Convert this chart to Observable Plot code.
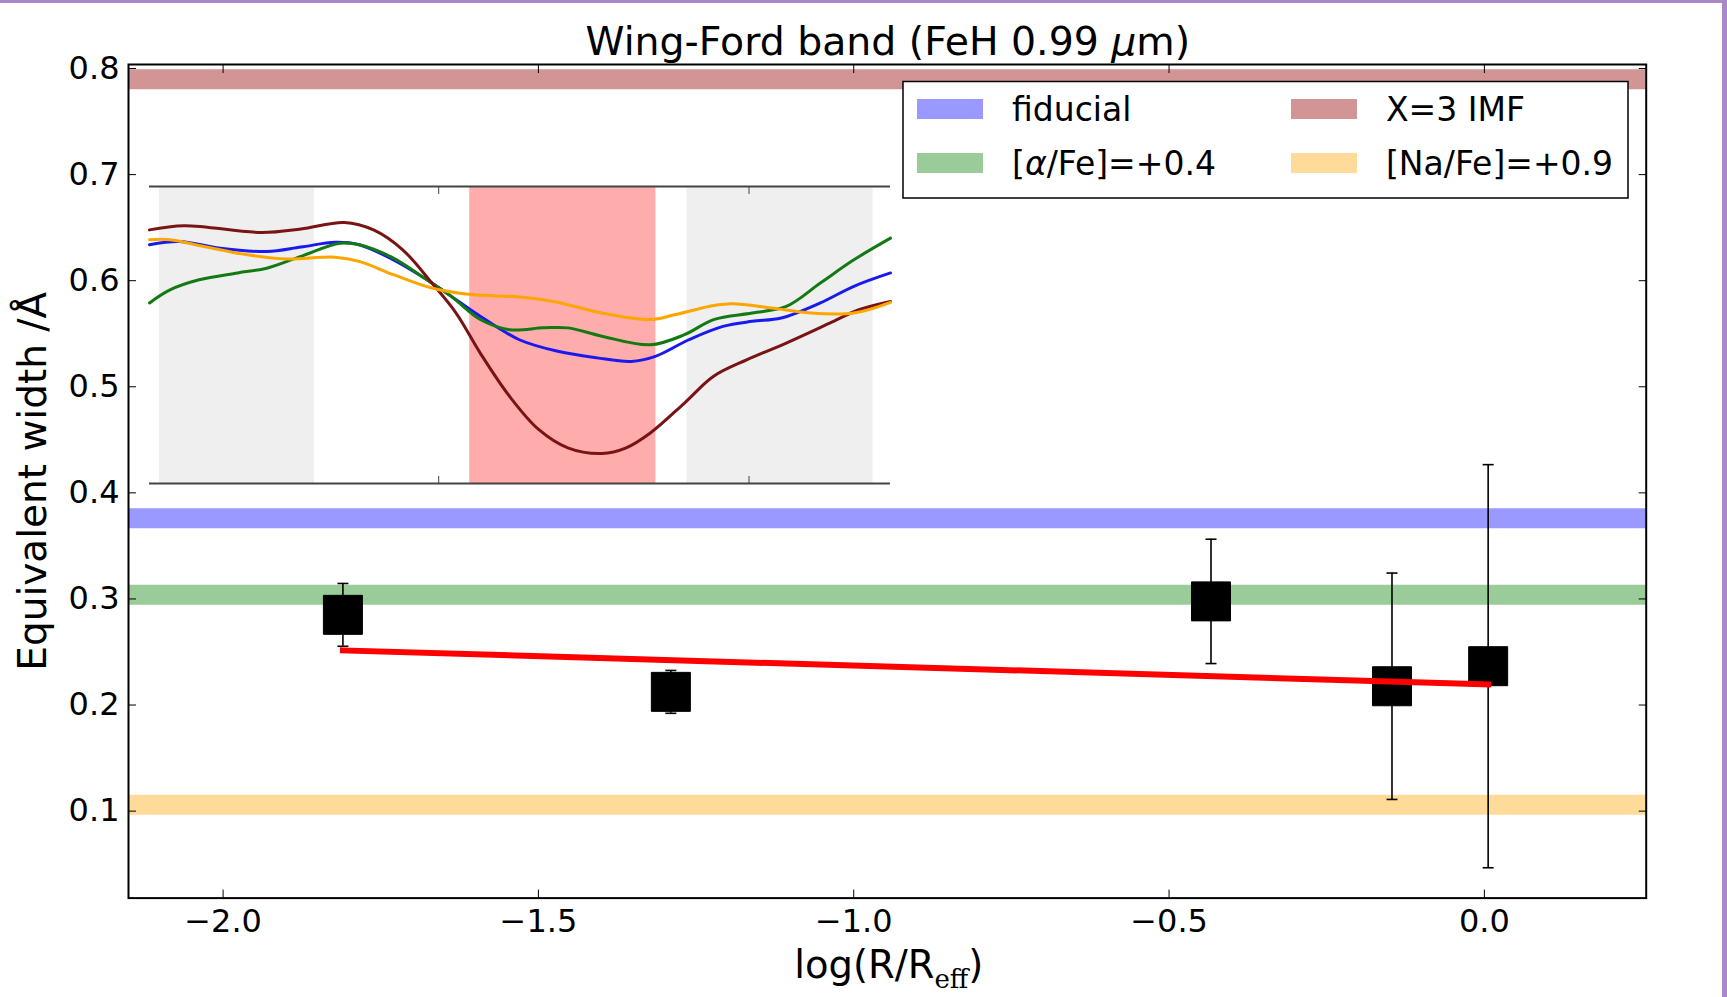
<!DOCTYPE html>
<html><head><meta charset="utf-8">
<script src="https://cdn.jsdelivr.net/npm/d3@7"></script>
<script src="https://cdn.jsdelivr.net/npm/@observablehq/plot@0.6"></script>
<style>
html,body{margin:0;padding:0;background:#fff;}
#wrap{position:relative;width:1727px;height:997px;overflow:hidden;background:#fff;}
#wrap svg{position:absolute;}
.bt{position:absolute;left:0;top:0;width:1727px;height:3px;background:#a987c9;}
.br{position:absolute;right:0;top:0;width:5px;height:997px;background:#a987c9;}
</style></head><body><div id="wrap"></div>
<script>
// ---------- data ----------
const radius = [-1.81, -1.29, -0.4335, -0.1465, 0.006];          // log(R/Reff)
const ew     = [0.285, 0.2124, 0.2977, 0.2177, 0.2366];           // equivalent width (Å)
const ewErr  = [0.0296, 0.0202, 0.0586, 0.1067, 0.190];
const fitX   = [-1.81, 0.006];
const fitY   = [0.2515, 0.2195];

const bandNames  = ["fiducial", "[α/Fe]=+0.4", "X=3 IMF", "[Na/Fe]=+0.9"];
const bandValues = [0.376, 0.304, 0.79, 0.106];

const xTicks = [-2.0, -1.5, -1.0, -0.5, 0.0];
const yTicks = [0.1, 0.2, 0.3, 0.4, 0.5, 0.6, 0.7, 0.8];

const titleText = "Wing-Ford band (FeH 0.99 μm)";
const yLabelText = "Equivalent width /Å";

// inset spectra (wavelength Å, relative flux 0..1 of inset height)
const lamFid  = [9853.4,9858.2,9864.5,9872.3,9877.8,9883.3,9887.2,9892.7,9897.3,9901.3,9906.7,9913.0,9919.2,9925.5,9931.0,9934.9,9940.3,9945.8,9950.5,9955.2,9961.5,9966.9,9972.8];
const fluxFid = [0.804,0.815,0.793,0.781,0.796,0.812,0.804,0.753,0.697,0.641,0.563,0.484,0.445,0.423,0.411,0.428,0.484,0.529,0.546,0.557,0.608,0.664,0.709];
const lamAlpha  = [9853.4,9856.7,9861.4,9867.6,9872.3,9877.8,9884.1,9887.2,9892.7,9897.3,9902.0,9906.7,9911.4,9916.9,9920.8,9926.3,9934.1,9939.6,9944.3,9950.5,9956.0,9961.5,9966.9,9972.8];
const fluxAlpha = [0.608,0.652,0.686,0.709,0.725,0.765,0.809,0.804,0.759,0.697,0.630,0.552,0.518,0.524,0.524,0.496,0.467,0.501,0.552,0.574,0.596,0.675,0.753,0.826];
const lamImf  = [9853.4,9859.0,9871.5,9877.8,9884.8,9889.5,9894.2,9898.9,9902.8,9906.7,9911.4,9916.1,9920.8,9926.3,9930.2,9934.1,9939.6,9944.3,9949.7,9956.0,9963.0,9967.7,9972.8];
const fluxImf = [0.854,0.868,0.845,0.857,0.879,0.854,0.787,0.675,0.574,0.439,0.294,0.182,0.120,0.101,0.120,0.170,0.271,0.361,0.417,0.473,0.540,0.585,0.613];
const lamNa  = [9853.4,9856.7,9862.2,9869.2,9875.4,9883.3,9887.2,9892.7,9898.9,9905.2,9913.0,9918.5,9926.3,9934.1,9938.0,9944.3,9947.4,9953.6,9959.9,9966.9,9972.8];
const fluxNa = [0.821,0.821,0.798,0.770,0.756,0.762,0.748,0.703,0.658,0.636,0.628,0.613,0.574,0.552,0.568,0.599,0.605,0.591,0.574,0.574,0.610];

const continuaLo = [9855, 9940];
const continuaHi = [9880, 9970];
const featureLo = [9905];
const featureHi = [9935];
const insetTicks = [9900, 9950];

// ---------- styles ----------
const bandPalette = ["#9999ff", "#99cc99", "#d29595", "#ffdb99"];
const insetPalette = ["#1a1aee", "#137a13", "#7a1414", "#ffa500"];
const FONT = "DejaVu Sans";

// ---------- build tables ----------
const bands = bandNames.map((name, i) => ({name, value: bandValues[i]}));
const points = radius.map((r, i) => ({r, ew: ew[i], err: ewErr[i]}));
const fit = fitX.map((x, i) => ({x, y: fitY[i]}));
const insetSeries = [[lamFid, fluxFid], [lamAlpha, fluxAlpha], [lamImf, fluxImf], [lamNa, fluxNa]];
const spectra = insetSeries.flatMap(([L, F], k) => L.map((lam, i) => ({series: bandNames[k], lam, flux: F[i]})));
const continua = continuaLo.map((a, i) => ({a, b: continuaHi[i]}));
const feature = featureLo.map((a, i) => ({a, b: featureHi[i]}));

const W = 1727, H = 997;
const M = {left: 128, right: 81.3, top: 64, bottom: 99.4};
const fmt = d3.format(".1f");
const blank = () => "";
const capSymbol = {draw(ctx, size) { const w = Math.sqrt(size / Math.PI); ctx.moveTo(-w, 0); ctx.lineTo(w, 0); }};

const main = Plot.plot({
  width: W, height: H,
  marginLeft: M.left, marginRight: M.right, marginTop: M.top, marginBottom: M.bottom,
  style: {fontFamily: FONT, fontSize: "32px", color: "black", background: "white"},
  x: {domain: [-2.15, 0.2566]},
  y: {domain: [0.018, 0.8038]},
  color: {domain: bandNames, range: bandPalette},
  marks: [
    Plot.ruleY(bands, {y: "value", stroke: "name", strokeWidth: 20}),
    Plot.ruleX(points, {x: "r", y1: d => d.ew - d.err, y2: d => d.ew + d.err, stroke: "black", strokeWidth: 1.6}),
    Plot.dot(points, {x: "r", y: d => d.ew + d.err, symbol: capSymbol, r: 5.5, stroke: "black", fill: "none", strokeWidth: 1.6}),
    Plot.dot(points, {x: "r", y: d => d.ew - d.err, symbol: capSymbol, r: 5.5, stroke: "black", fill: "none", strokeWidth: 1.6}),
    Plot.dot(points, {x: "r", y: "ew", symbol: "square", r: 39 / Math.sqrt(Math.PI), fill: "black", stroke: "black", strokeWidth: 1}),
    Plot.line(fit, {x: "x", y: "y", stroke: "red", strokeWidth: 6, strokeLinecap: "square"}),
    Plot.axisX({ticks: xTicks, anchor: "bottom", tickSize: 8, dy: -8, tickFormat: blank, label: null}),
    Plot.axisX({ticks: xTicks, anchor: "top", tickSize: 8, dy: 8, tickFormat: blank, label: null}),
    Plot.axisY({ticks: yTicks, anchor: "left", tickSize: 8, dx: 8, tickFormat: blank, label: null}),
    Plot.axisY({ticks: yTicks, anchor: "right", tickSize: 8, dx: -8, tickFormat: blank, label: null}),
    Plot.axisX({ticks: xTicks, anchor: "bottom", tickSize: 0, tickPadding: 11, tickFormat: fmt, fontSize: 32, label: null}),
    Plot.axisY({ticks: yTicks, anchor: "left", tickSize: 0, tickPadding: 9, tickFormat: fmt, fontSize: 32, label: null}),
    Plot.frame({stroke: "black", strokeWidth: 2}),
    Plot.text([yLabelText], {frameAnchor: "left", dx: -95, rotate: -90, text: d => d, fontSize: 39, textAnchor: "middle", lineAnchor: "middle"})
  ]
});

const svg = d3.select(main);
const cx = (M.left + W - M.right) / 2;
// title
const t = svg.append("text").attr("x", cx + 1).attr("y", 55).attr("text-anchor", "middle")
  .attr("font-family", FONT).attr("font-size", 39.4).attr("fill", "black");
titleText.split(/(μ)/).forEach(s => { if (!s) return; const ts = t.append("tspan").text(s); if (s === "μ") ts.attr("font-style", "italic"); });
// x label
const xl = svg.append("text").attr("x", cx + 2).attr("y", 978).attr("text-anchor", "middle")
  .attr("font-family", FONT).attr("font-size", 38.5).attr("fill", "black");
xl.append("tspan").text("log(R/R");
xl.append("tspan").attr("font-family", "DejaVu Serif").attr("font-size", 26).attr("dy", 10).text("eff");
xl.append("tspan").attr("dy", -10).text(")");
// legend
const lg = svg.append("g").attr("text-anchor", "start");
lg.append("rect").attr("x", 903).attr("y", 81.5).attr("width", 725).attr("height", 116.5)
  .attr("fill", "white").attr("stroke", "black").attr("stroke-width", 1.5);
const colX = [917, 1291], rowY = [109, 163];
const legendOrder = [0, 1, 2, 3]; // column-major: col0 rows 0,1 ; col1 rows 0,1
legendOrder.forEach((k, i) => {
  const c = Math.floor(i / 2), r = i % 2;
  lg.append("rect").attr("x", colX[c]).attr("y", rowY[r] - 10).attr("width", 66).attr("height", 20).attr("fill", bandPalette[k]);
  const tx = lg.append("text").attr("x", colX[c] + 95).attr("y", rowY[r] + 12).attr("text-anchor", "start")
    .attr("font-family", FONT).attr("font-size", 33).attr("fill", "black");
  bandNames[k].split(/(α)/).forEach(s => { if (!s) return; const ts = tx.append("tspan").text(s); if (s === "α") ts.attr("font-style", "italic"); });
});

const wrap = document.getElementById("wrap");
main.style.left = "0px"; main.style.top = "0px";
wrap.appendChild(main);

// ---------- inset ----------
const IW = 741, IH = 297, IM = 2;
const inset = Plot.plot({
  width: IW + 2 * IM, height: IH + 2 * IM, margin: IM,
  style: {background: "white"},
  x: {domain: [9853.4, 9972.8]},
  y: {domain: [0, 1], axis: null},
  color: {domain: bandNames, range: insetPalette},
  marks: [
    Plot.rect(continua, {x1: "a", x2: "b", fill: "#efefef"}),
    Plot.rect(feature, {x1: "a", x2: "b", fill: "#ffacac"}),
    Plot.line(spectra, {x: "lam", y: "flux", z: "series", stroke: "series", strokeWidth: 3, curve: "catmull-rom"}),
    Plot.ruleY([0, 1], {stroke: "#444", strokeWidth: 2}),
    Plot.axisX({ticks: insetTicks, anchor: "bottom", tickSize: 7, dy: -7, tickFormat: blank, label: null, stroke: "#444"}),
    Plot.axisX({ticks: insetTicks, anchor: "top", tickSize: 7, dy: 7, tickFormat: blank, label: null, stroke: "#444"})
  ]
});
inset.style.left = (148.7 - IM) + "px";
inset.style.top = (186 - IM) + "px";
wrap.appendChild(inset);

const b1 = document.createElement("div"); b1.className = "bt"; wrap.appendChild(b1);
const b2 = document.createElement("div"); b2.className = "br"; wrap.appendChild(b2);
</script></body></html>
